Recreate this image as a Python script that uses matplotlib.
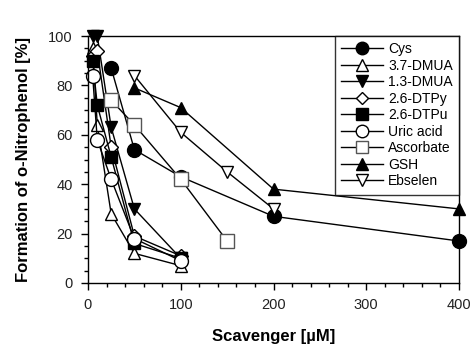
import matplotlib
matplotlib.use("Agg")
import matplotlib.pyplot as plt
from matplotlib.ticker import MultipleLocator

plt.rcParams['font.family'] = ['Liberation Sans', 'DejaVu Sans']

cys_x = [25, 50, 100, 200, 400]
cys_y = [87, 54, 43, 27, 17]
dmua37_x = [5, 10, 25, 50, 100]
dmua37_y = [95, 64, 28, 12, 7]
dmua13_x = [5, 10, 25, 50, 100]
dmua13_y = [100, 100, 63, 30, 10]
dtpy_x = [5, 10, 25, 50, 100]
dtpy_y = [92, 94, 55, 19, 11]
dtpu_x = [5, 10, 25, 50, 100]
dtpu_y = [90, 72, 51, 16, 10]
uric_x = [5, 10, 25, 50, 100]
uric_y = [84, 58, 42, 18, 9]
asc_x = [25, 50, 100, 150]
asc_y = [74, 64, 42, 17]
gsh_x = [50, 100, 200, 400]
gsh_y = [79, 71, 38, 30]
ebs_x = [50, 100, 150, 200]
ebs_y = [84, 61, 45, 30]

series = [
    ("Cys", cys_x, cys_y, dict(marker='o', mfc='black', mec='black', ms=10)),
    ("3.7-DMUA", dmua37_x, dmua37_y, dict(marker='^', mfc='white', mec='black', ms=9)),
    ("1.3-DMUA", dmua13_x, dmua13_y, dict(marker='v', mfc='black', mec='black', ms=9)),
    ("2.6-DTPy", dtpy_x, dtpy_y, dict(marker='D', mfc='white', mec='black', ms=7)),
    ("2.6-DTPu", dtpu_x, dtpu_y, dict(marker='s', mfc='black', mec='black', ms=9)),
    ("Uric acid", uric_x, uric_y, dict(marker='o', mfc='white', mec='black', ms=10)),
    ("Ascorbate", asc_x, asc_y, dict(marker='s', mfc='white', mec='#555555', ms=10)),
    ("GSH", gsh_x, gsh_y, dict(marker='^', mfc='black', mec='black', ms=9)),
    ("Ebselen", ebs_x, ebs_y, dict(marker='v', mfc='white', mec='black', ms=9)),
]

fig = plt.figure(figsize=(4.72, 3.52), dpi=100)
ax = fig.add_axes([88/472, 1-283/352, (459-88)/472, (283-36)/352])

for name, xs, ys, st in series:
    ax.plot(xs, ys, color='black', lw=1, label=name, clip_on=False, mew=1, **st)

ax.set_xlim(0, 400)
ax.set_ylim(0, 100)
ax.xaxis.set_major_locator(MultipleLocator(100))
ax.xaxis.set_minor_locator(MultipleLocator(20))
ax.yaxis.set_major_locator(MultipleLocator(20))
ax.yaxis.set_minor_locator(MultipleLocator(5))
ax.tick_params(which='both', direction='out', top=False, right=False, labelsize=10.5, width=1,
               labelcolor='#222222')
ax.tick_params(which='major', length=5, pad=6)
ax.tick_params(which='minor', length=3)
for s in ax.spines.values():
    s.set_linewidth(1)

ax.set_xlabel("Scavenger [µM]", fontsize=12, fontweight='bold', labelpad=12)
ax.set_ylabel("Formation of o-Nitrophenol [%]", fontsize=12, fontweight='bold', labelpad=12)

leg = ax.legend(loc='upper right', borderaxespad=0, fontsize=10, frameon=True,
                fancybox=False, edgecolor='black', handlelength=3.0,
                labelspacing=0.18, handletextpad=0.35, borderpad=0.45, markerscale=0.9)
leg.get_frame().set_linewidth(1)

fig.savefig("out.png", dpi=100)
